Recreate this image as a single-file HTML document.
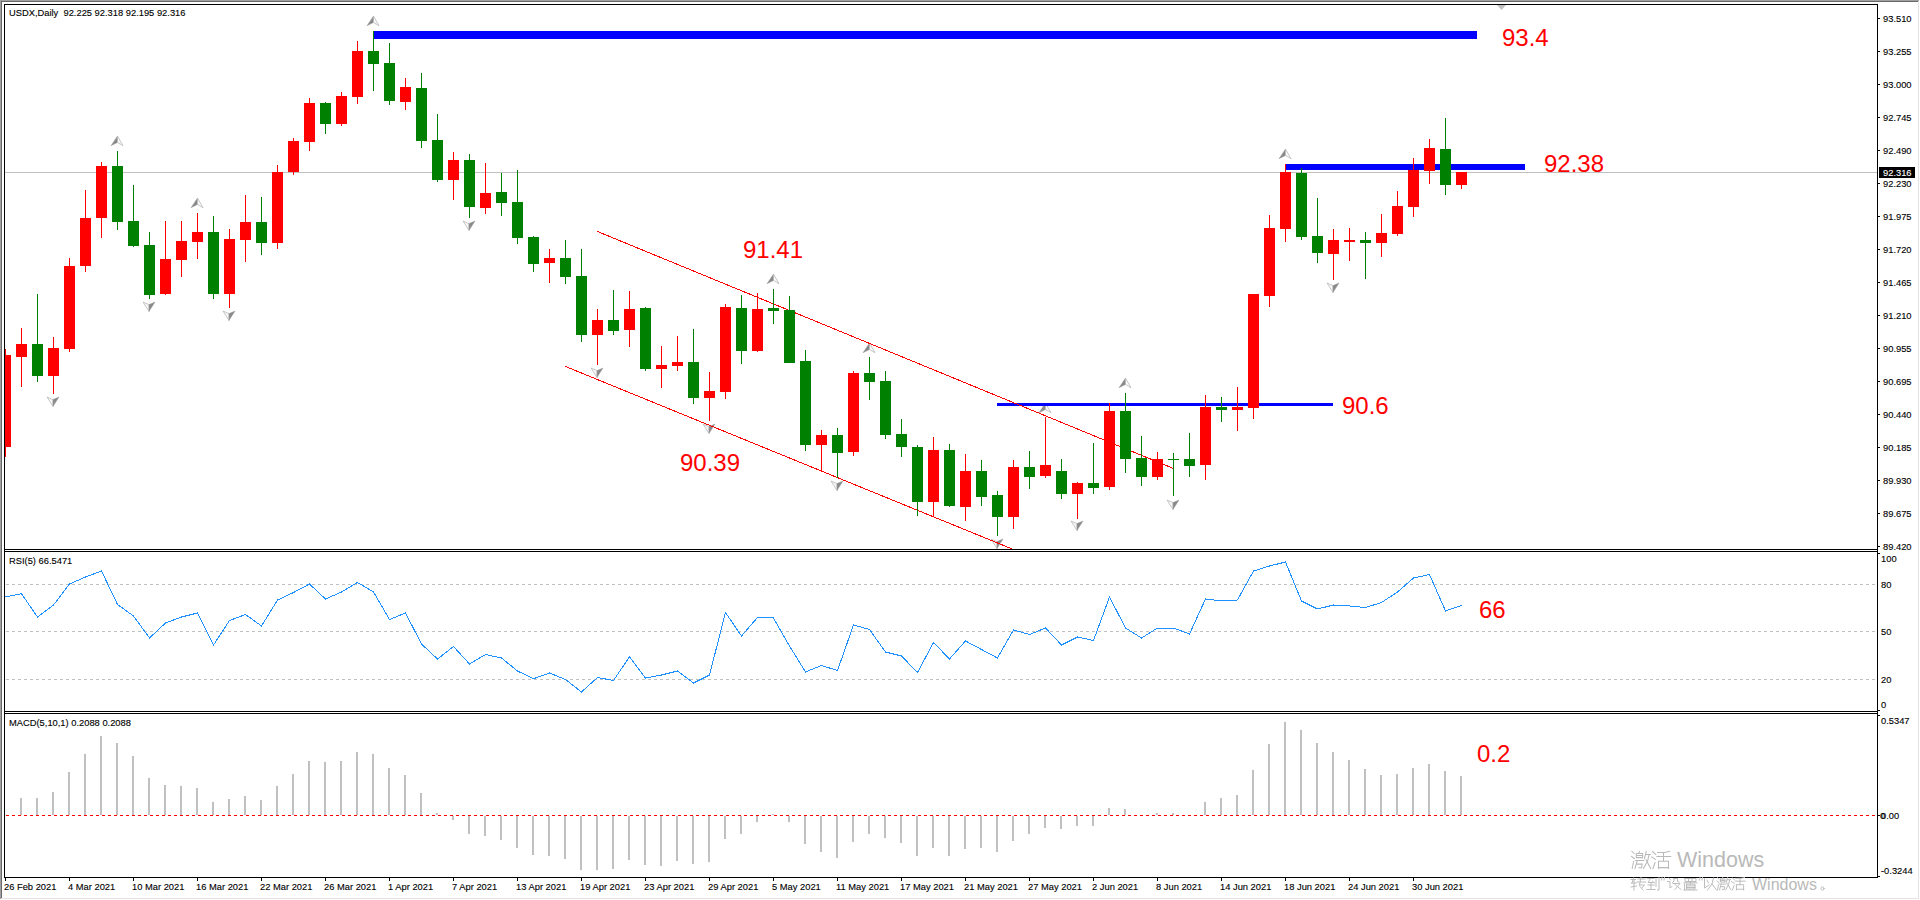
<!DOCTYPE html><html><head><meta charset="utf-8"><style>html,body{margin:0;padding:0;background:#fff;width:1920px;height:900px;overflow:hidden}svg{display:block}text{font-family:"Liberation Sans",sans-serif}</style></head><body>
<svg width="1920" height="900" viewBox="0 0 1920 900">
<rect x="0" y="0" width="1920" height="900" fill="#fff"/>
<g shape-rendering="crispEdges">
<rect x="0" y="0" width="1919" height="1" fill="#a0a0a0"/>
<rect x="0" y="0" width="1" height="899" fill="#a0a0a0"/>
<rect x="1" y="1" width="1917" height="1" fill="#696969"/>
<rect x="1" y="1" width="1" height="897" fill="#696969"/>
<rect x="1918" y="1" width="1" height="898" fill="#e3e3e3"/>
<rect x="1" y="898" width="1918" height="1" fill="#e3e3e3"/>
</g>
<defs><clipPath id="cm"><rect x="5" y="5" width="1872" height="544"/></clipPath><clipPath id="cr"><rect x="5" y="552" width="1872" height="159"/></clipPath><clipPath id="cd"><rect x="5" y="714" width="1872" height="163"/></clipPath></defs>
<g clip-path="url(#cm)">
<rect x="5" y="172" width="1872" height="1" fill="#c0c0c0" shape-rendering="crispEdges"/>
<polygon points="1497,5 1506,5 1501.5,10" fill="#c0c0c0"/>
<polygon points="117.5,136 111,145.7 117.5,142.5" fill="#888888" stroke="#a0a0a0" stroke-width="0.5"/><polygon points="117.5,136 117.5,142.5 123,145.7" fill="#f8f8f8" stroke="#b0b0b0" stroke-width="0.7"/>
<polygon points="197.5,198 191,207.7 197.5,204.5" fill="#888888" stroke="#a0a0a0" stroke-width="0.5"/><polygon points="197.5,198 197.5,204.5 203,207.7" fill="#f8f8f8" stroke="#b0b0b0" stroke-width="0.7"/>
<polygon points="373.5,16 367,25.7 373.5,22.5" fill="#888888" stroke="#a0a0a0" stroke-width="0.5"/><polygon points="373.5,16 373.5,22.5 379,25.7" fill="#f8f8f8" stroke="#b0b0b0" stroke-width="0.7"/>
<polygon points="773.5,274 767,283.7 773.5,280.5" fill="#888888" stroke="#a0a0a0" stroke-width="0.5"/><polygon points="773.5,274 773.5,280.5 779,283.7" fill="#f8f8f8" stroke="#b0b0b0" stroke-width="0.7"/>
<polygon points="869.5,343 863,352.7 869.5,349.5" fill="#888888" stroke="#a0a0a0" stroke-width="0.5"/><polygon points="869.5,343 869.5,349.5 875,352.7" fill="#f8f8f8" stroke="#b0b0b0" stroke-width="0.7"/>
<polygon points="1045.5,403 1039,412.7 1045.5,409.5" fill="#888888" stroke="#a0a0a0" stroke-width="0.5"/><polygon points="1045.5,403 1045.5,409.5 1051,412.7" fill="#f8f8f8" stroke="#b0b0b0" stroke-width="0.7"/>
<polygon points="1125.5,378 1119,387.7 1125.5,384.5" fill="#888888" stroke="#a0a0a0" stroke-width="0.5"/><polygon points="1125.5,378 1125.5,384.5 1131,387.7" fill="#f8f8f8" stroke="#b0b0b0" stroke-width="0.7"/>
<polygon points="1285.5,149 1279,158.7 1285.5,155.5" fill="#888888" stroke="#a0a0a0" stroke-width="0.5"/><polygon points="1285.5,149 1285.5,155.5 1291,158.7" fill="#f8f8f8" stroke="#b0b0b0" stroke-width="0.7"/>
<polygon points="47,397 53,399.6 53,406.5" fill="#f8f8f8" stroke="#b0b0b0" stroke-width="0.7"/><polygon points="59,397 53,406.5 53,399.6" fill="#888888" stroke="#a0a0a0" stroke-width="0.5"/>
<polygon points="143,302 149,304.6 149,311.5" fill="#f8f8f8" stroke="#b0b0b0" stroke-width="0.7"/><polygon points="155,302 149,311.5 149,304.6" fill="#888888" stroke="#a0a0a0" stroke-width="0.5"/>
<polygon points="223,311 229,313.6 229,320.5" fill="#f8f8f8" stroke="#b0b0b0" stroke-width="0.7"/><polygon points="235,311 229,320.5 229,313.6" fill="#888888" stroke="#a0a0a0" stroke-width="0.5"/>
<polygon points="463,221 469,223.6 469,230.5" fill="#f8f8f8" stroke="#b0b0b0" stroke-width="0.7"/><polygon points="475,221 469,230.5 469,223.6" fill="#888888" stroke="#a0a0a0" stroke-width="0.5"/>
<polygon points="591,368 597,370.6 597,377.5" fill="#f8f8f8" stroke="#b0b0b0" stroke-width="0.7"/><polygon points="603,368 597,377.5 597,370.6" fill="#888888" stroke="#a0a0a0" stroke-width="0.5"/>
<polygon points="703,424 709,426.6 709,433.5" fill="#f8f8f8" stroke="#b0b0b0" stroke-width="0.7"/><polygon points="715,424 709,433.5 709,426.6" fill="#888888" stroke="#a0a0a0" stroke-width="0.5"/>
<polygon points="831,481 837,483.6 837,490.5" fill="#f8f8f8" stroke="#b0b0b0" stroke-width="0.7"/><polygon points="843,481 837,490.5 837,483.6" fill="#888888" stroke="#a0a0a0" stroke-width="0.5"/>
<polygon points="991,539 997,541.6 997,548.5" fill="#f8f8f8" stroke="#b0b0b0" stroke-width="0.7"/><polygon points="1003,539 997,548.5 997,541.6" fill="#888888" stroke="#a0a0a0" stroke-width="0.5"/>
<polygon points="1071,521 1077,523.6 1077,530.5" fill="#f8f8f8" stroke="#b0b0b0" stroke-width="0.7"/><polygon points="1083,521 1077,530.5 1077,523.6" fill="#888888" stroke="#a0a0a0" stroke-width="0.5"/>
<polygon points="1167,500 1173,502.6 1173,509.5" fill="#f8f8f8" stroke="#b0b0b0" stroke-width="0.7"/><polygon points="1179,500 1173,509.5 1173,502.6" fill="#888888" stroke="#a0a0a0" stroke-width="0.5"/>
<polygon points="1327,283 1333,285.6 1333,292.5" fill="#f8f8f8" stroke="#b0b0b0" stroke-width="0.7"/><polygon points="1339,283 1333,292.5 1333,285.6" fill="#888888" stroke="#a0a0a0" stroke-width="0.5"/>
<g shape-rendering="crispEdges" fill="#0000ff">
<rect x="373" y="31" width="1104" height="8"/>
<rect x="1285" y="164" width="240" height="6"/>
<rect x="997" y="403" width="336" height="3"/>
</g>
<g stroke="#ff0000" stroke-width="1" shape-rendering="crispEdges">
<line x1="597.5" y1="231.5" x2="1173.5" y2="468.5"/>
<line x1="565.5" y1="366.5" x2="1013.5" y2="549.5"/>
</g>
<g shape-rendering="crispEdges">
<rect x="5" y="349" width="1" height="108" fill="#ff0000"/>
<rect x="0" y="355" width="11" height="92" fill="#ff0000"/>
<rect x="21" y="328" width="1" height="59" fill="#ff0000"/>
<rect x="16" y="344" width="11" height="13" fill="#ff0000"/>
<rect x="37" y="294" width="1" height="88" fill="#008000"/>
<rect x="32" y="344" width="11" height="32" fill="#008000"/>
<rect x="53" y="337" width="1" height="57" fill="#ff0000"/>
<rect x="48" y="348" width="11" height="28" fill="#ff0000"/>
<rect x="69" y="258" width="1" height="94" fill="#ff0000"/>
<rect x="64" y="266" width="11" height="83" fill="#ff0000"/>
<rect x="85" y="190" width="1" height="82" fill="#ff0000"/>
<rect x="80" y="218" width="11" height="48" fill="#ff0000"/>
<rect x="101" y="162" width="1" height="76" fill="#ff0000"/>
<rect x="96" y="166" width="11" height="52" fill="#ff0000"/>
<rect x="117" y="151" width="1" height="79" fill="#008000"/>
<rect x="112" y="166" width="11" height="56" fill="#008000"/>
<rect x="133" y="185" width="1" height="62" fill="#008000"/>
<rect x="128" y="221" width="11" height="25" fill="#008000"/>
<rect x="149" y="232" width="1" height="67" fill="#008000"/>
<rect x="144" y="245" width="11" height="50" fill="#008000"/>
<rect x="165" y="221" width="1" height="74" fill="#ff0000"/>
<rect x="160" y="259" width="11" height="35" fill="#ff0000"/>
<rect x="181" y="221" width="1" height="56" fill="#ff0000"/>
<rect x="176" y="241" width="11" height="19" fill="#ff0000"/>
<rect x="197" y="213" width="1" height="46" fill="#ff0000"/>
<rect x="192" y="232" width="11" height="10" fill="#ff0000"/>
<rect x="213" y="216" width="1" height="83" fill="#008000"/>
<rect x="208" y="232" width="11" height="62" fill="#008000"/>
<rect x="229" y="229" width="1" height="79" fill="#ff0000"/>
<rect x="224" y="239" width="11" height="55" fill="#ff0000"/>
<rect x="245" y="195" width="1" height="67" fill="#ff0000"/>
<rect x="240" y="222" width="11" height="18" fill="#ff0000"/>
<rect x="261" y="197" width="1" height="58" fill="#008000"/>
<rect x="256" y="222" width="11" height="21" fill="#008000"/>
<rect x="277" y="165" width="1" height="84" fill="#ff0000"/>
<rect x="272" y="172" width="11" height="71" fill="#ff0000"/>
<rect x="293" y="138" width="1" height="37" fill="#ff0000"/>
<rect x="288" y="141" width="11" height="31" fill="#ff0000"/>
<rect x="309" y="98" width="1" height="53" fill="#ff0000"/>
<rect x="304" y="103" width="11" height="39" fill="#ff0000"/>
<rect x="325" y="102" width="1" height="32" fill="#008000"/>
<rect x="320" y="103" width="11" height="21" fill="#008000"/>
<rect x="341" y="92" width="1" height="34" fill="#ff0000"/>
<rect x="336" y="96" width="11" height="28" fill="#ff0000"/>
<rect x="357" y="41" width="1" height="63" fill="#ff0000"/>
<rect x="352" y="51" width="11" height="46" fill="#ff0000"/>
<rect x="373" y="31" width="1" height="60" fill="#008000"/>
<rect x="368" y="51" width="11" height="13" fill="#008000"/>
<rect x="389" y="43" width="1" height="62" fill="#008000"/>
<rect x="384" y="63" width="11" height="38" fill="#008000"/>
<rect x="405" y="78" width="1" height="32" fill="#ff0000"/>
<rect x="400" y="87" width="11" height="15" fill="#ff0000"/>
<rect x="421" y="73" width="1" height="75" fill="#008000"/>
<rect x="416" y="88" width="11" height="53" fill="#008000"/>
<rect x="437" y="114" width="1" height="68" fill="#008000"/>
<rect x="432" y="140" width="11" height="40" fill="#008000"/>
<rect x="453" y="152" width="1" height="48" fill="#ff0000"/>
<rect x="448" y="160" width="11" height="20" fill="#ff0000"/>
<rect x="469" y="154" width="1" height="64" fill="#008000"/>
<rect x="464" y="160" width="11" height="47" fill="#008000"/>
<rect x="485" y="163" width="1" height="51" fill="#ff0000"/>
<rect x="480" y="193" width="11" height="15" fill="#ff0000"/>
<rect x="501" y="173" width="1" height="43" fill="#008000"/>
<rect x="496" y="192" width="11" height="11" fill="#008000"/>
<rect x="517" y="170" width="1" height="74" fill="#008000"/>
<rect x="512" y="202" width="11" height="36" fill="#008000"/>
<rect x="533" y="236" width="1" height="36" fill="#008000"/>
<rect x="528" y="237" width="11" height="27" fill="#008000"/>
<rect x="549" y="249" width="1" height="34" fill="#ff0000"/>
<rect x="544" y="258" width="11" height="5" fill="#ff0000"/>
<rect x="565" y="240" width="1" height="44" fill="#008000"/>
<rect x="560" y="258" width="11" height="19" fill="#008000"/>
<rect x="581" y="249" width="1" height="93" fill="#008000"/>
<rect x="576" y="276" width="11" height="59" fill="#008000"/>
<rect x="597" y="309" width="1" height="56" fill="#ff0000"/>
<rect x="592" y="320" width="11" height="15" fill="#ff0000"/>
<rect x="613" y="290" width="1" height="45" fill="#008000"/>
<rect x="608" y="320" width="11" height="11" fill="#008000"/>
<rect x="629" y="291" width="1" height="56" fill="#ff0000"/>
<rect x="624" y="309" width="11" height="21" fill="#ff0000"/>
<rect x="645" y="307" width="1" height="64" fill="#008000"/>
<rect x="640" y="308" width="11" height="61" fill="#008000"/>
<rect x="661" y="346" width="1" height="42" fill="#ff0000"/>
<rect x="656" y="365" width="11" height="4" fill="#ff0000"/>
<rect x="677" y="336" width="1" height="35" fill="#ff0000"/>
<rect x="672" y="362" width="11" height="4" fill="#ff0000"/>
<rect x="693" y="329" width="1" height="75" fill="#008000"/>
<rect x="688" y="362" width="11" height="36" fill="#008000"/>
<rect x="709" y="372" width="1" height="49" fill="#ff0000"/>
<rect x="704" y="391" width="11" height="7" fill="#ff0000"/>
<rect x="725" y="304" width="1" height="95" fill="#ff0000"/>
<rect x="720" y="307" width="11" height="85" fill="#ff0000"/>
<rect x="741" y="295" width="1" height="69" fill="#008000"/>
<rect x="736" y="308" width="11" height="43" fill="#008000"/>
<rect x="757" y="293" width="1" height="59" fill="#ff0000"/>
<rect x="752" y="309" width="11" height="42" fill="#ff0000"/>
<rect x="773" y="289" width="1" height="35" fill="#008000"/>
<rect x="768" y="308" width="11" height="3" fill="#008000"/>
<rect x="789" y="296" width="1" height="67" fill="#008000"/>
<rect x="784" y="310" width="11" height="53" fill="#008000"/>
<rect x="805" y="350" width="1" height="101" fill="#008000"/>
<rect x="800" y="361" width="11" height="84" fill="#008000"/>
<rect x="821" y="430" width="1" height="41" fill="#ff0000"/>
<rect x="816" y="435" width="11" height="10" fill="#ff0000"/>
<rect x="837" y="428" width="1" height="50" fill="#008000"/>
<rect x="832" y="435" width="11" height="18" fill="#008000"/>
<rect x="853" y="371" width="1" height="85" fill="#ff0000"/>
<rect x="848" y="373" width="11" height="79" fill="#ff0000"/>
<rect x="869" y="357" width="1" height="43" fill="#008000"/>
<rect x="864" y="373" width="11" height="9" fill="#008000"/>
<rect x="885" y="371" width="1" height="68" fill="#008000"/>
<rect x="880" y="381" width="11" height="54" fill="#008000"/>
<rect x="901" y="419" width="1" height="38" fill="#008000"/>
<rect x="896" y="434" width="11" height="13" fill="#008000"/>
<rect x="917" y="445" width="1" height="71" fill="#008000"/>
<rect x="912" y="447" width="11" height="55" fill="#008000"/>
<rect x="933" y="437" width="1" height="79" fill="#ff0000"/>
<rect x="928" y="450" width="11" height="52" fill="#ff0000"/>
<rect x="949" y="444" width="1" height="63" fill="#008000"/>
<rect x="944" y="450" width="11" height="56" fill="#008000"/>
<rect x="965" y="454" width="1" height="67" fill="#ff0000"/>
<rect x="960" y="471" width="11" height="36" fill="#ff0000"/>
<rect x="981" y="460" width="1" height="46" fill="#008000"/>
<rect x="976" y="471" width="11" height="26" fill="#008000"/>
<rect x="997" y="491" width="1" height="45" fill="#008000"/>
<rect x="992" y="495" width="11" height="22" fill="#008000"/>
<rect x="1013" y="460" width="1" height="69" fill="#ff0000"/>
<rect x="1008" y="467" width="11" height="50" fill="#ff0000"/>
<rect x="1029" y="451" width="1" height="38" fill="#008000"/>
<rect x="1024" y="467" width="11" height="10" fill="#008000"/>
<rect x="1045" y="417" width="1" height="61" fill="#ff0000"/>
<rect x="1040" y="465" width="11" height="11" fill="#ff0000"/>
<rect x="1061" y="459" width="1" height="40" fill="#008000"/>
<rect x="1056" y="471" width="11" height="23" fill="#008000"/>
<rect x="1077" y="482" width="1" height="37" fill="#ff0000"/>
<rect x="1072" y="483" width="11" height="11" fill="#ff0000"/>
<rect x="1093" y="443" width="1" height="51" fill="#008000"/>
<rect x="1088" y="483" width="11" height="5" fill="#008000"/>
<rect x="1109" y="403" width="1" height="87" fill="#ff0000"/>
<rect x="1104" y="411" width="11" height="76" fill="#ff0000"/>
<rect x="1125" y="393" width="1" height="80" fill="#008000"/>
<rect x="1120" y="411" width="11" height="48" fill="#008000"/>
<rect x="1141" y="436" width="1" height="50" fill="#008000"/>
<rect x="1136" y="458" width="11" height="19" fill="#008000"/>
<rect x="1157" y="452" width="1" height="28" fill="#ff0000"/>
<rect x="1152" y="459" width="11" height="18" fill="#ff0000"/>
<rect x="1173" y="453" width="1" height="43" fill="#008000"/>
<rect x="1168" y="459" width="11" height="1" fill="#008000"/>
<rect x="1189" y="433" width="1" height="44" fill="#008000"/>
<rect x="1184" y="459" width="11" height="7" fill="#008000"/>
<rect x="1205" y="395" width="1" height="85" fill="#ff0000"/>
<rect x="1200" y="407" width="11" height="58" fill="#ff0000"/>
<rect x="1221" y="397" width="1" height="25" fill="#008000"/>
<rect x="1216" y="407" width="11" height="3" fill="#008000"/>
<rect x="1237" y="387" width="1" height="44" fill="#ff0000"/>
<rect x="1232" y="407" width="11" height="3" fill="#ff0000"/>
<rect x="1253" y="294" width="1" height="125" fill="#ff0000"/>
<rect x="1248" y="294" width="11" height="114" fill="#ff0000"/>
<rect x="1269" y="215" width="1" height="92" fill="#ff0000"/>
<rect x="1264" y="228" width="11" height="68" fill="#ff0000"/>
<rect x="1285" y="164" width="1" height="78" fill="#ff0000"/>
<rect x="1280" y="172" width="11" height="57" fill="#ff0000"/>
<rect x="1301" y="168" width="1" height="72" fill="#008000"/>
<rect x="1296" y="173" width="11" height="64" fill="#008000"/>
<rect x="1317" y="198" width="1" height="65" fill="#008000"/>
<rect x="1312" y="236" width="11" height="17" fill="#008000"/>
<rect x="1333" y="229" width="1" height="51" fill="#ff0000"/>
<rect x="1328" y="240" width="11" height="14" fill="#ff0000"/>
<rect x="1349" y="228" width="1" height="33" fill="#ff0000"/>
<rect x="1344" y="240" width="11" height="2" fill="#ff0000"/>
<rect x="1365" y="232" width="1" height="47" fill="#008000"/>
<rect x="1360" y="240" width="11" height="3" fill="#008000"/>
<rect x="1381" y="214" width="1" height="43" fill="#ff0000"/>
<rect x="1376" y="233" width="11" height="10" fill="#ff0000"/>
<rect x="1397" y="191" width="1" height="45" fill="#ff0000"/>
<rect x="1392" y="206" width="11" height="28" fill="#ff0000"/>
<rect x="1413" y="158" width="1" height="59" fill="#ff0000"/>
<rect x="1408" y="170" width="11" height="37" fill="#ff0000"/>
<rect x="1429" y="139" width="1" height="45" fill="#ff0000"/>
<rect x="1424" y="148" width="11" height="23" fill="#ff0000"/>
<rect x="1445" y="118" width="1" height="77" fill="#008000"/>
<rect x="1440" y="149" width="11" height="36" fill="#008000"/>
<rect x="1461" y="172" width="1" height="17" fill="#ff0000"/>
<rect x="1456" y="172" width="11" height="13" fill="#ff0000"/>
</g>
<text x="743" y="258" font-size="24" fill="#ff0000">91.41</text>
<text x="680" y="471" font-size="24" fill="#ff0000">90.39</text>
<text x="1342" y="414" font-size="24" fill="#ff0000">90.6</text>
<text x="1544" y="172" font-size="24" fill="#ff0000">92.38</text>
<text x="1502" y="46" font-size="24" fill="#ff0000">93.4</text>
</g>
<g clip-path="url(#cr)">
<line x1="6" y1="584.5" x2="1877" y2="584.5" stroke="#c0c0c0" stroke-width="1" stroke-dasharray="3,3" shape-rendering="crispEdges"/>
<line x1="6" y1="631.5" x2="1877" y2="631.5" stroke="#c0c0c0" stroke-width="1" stroke-dasharray="3,3" shape-rendering="crispEdges"/>
<line x1="6" y1="679.5" x2="1877" y2="679.5" stroke="#c0c0c0" stroke-width="1" stroke-dasharray="3,3" shape-rendering="crispEdges"/>
<polyline points="5.5,597 21.5,593.75 37.5,617 53.5,605 69.5,584 85.5,577 101.5,571 117.5,604.5 133.5,616 149.5,638 165.5,623 181.5,617 197.5,613 213.5,645 229.5,620.5 245.5,614.5 261.5,626 277.5,600 293.5,592.5 309.5,584 325.5,599 341.5,592 357.5,582.5 373.5,592 389.5,619.5 405.5,613 421.5,644 437.5,659 453.5,646.5 469.5,664 485.5,654.5 501.5,658 517.5,671 533.5,678.75 549.5,673 565.5,679.5 581.5,692 597.5,677.5 613.5,680.5 629.5,656.75 645.5,678 661.5,675 677.5,671 693.5,683 709.5,675 725.5,612.5 741.5,636 757.5,617.5 773.5,618 789.5,646 805.5,672 821.5,665.5 837.5,670.5 853.5,625 869.5,629.5 885.5,652 901.5,656 917.5,672.5 933.5,642.5 949.5,659 965.5,641 981.5,649.5 997.5,658 1013.5,630 1029.5,634.5 1045.5,628 1061.5,645 1077.5,637 1093.5,640.5 1109.5,597 1125.5,628 1141.5,638 1157.5,628 1173.5,628 1189.5,634 1205.5,599 1221.5,601 1237.5,600 1253.5,571 1269.5,566 1285.5,562 1301.5,601 1317.5,609 1333.5,605 1349.5,606 1365.5,607.5 1381.5,602.5 1397.5,592 1413.5,578 1429.5,574.5 1445.5,611 1461.5,605.4" fill="none" stroke="#1e90ff" stroke-width="1" shape-rendering="crispEdges"/>
<text x="1479" y="618" font-size="24" fill="#ff0000">66</text>
</g>
<g clip-path="url(#cd)">
<g shape-rendering="crispEdges" fill="#c0c0c0">
<rect x="20" y="798" width="2" height="17"/>
<rect x="36" y="798" width="2" height="17"/>
<rect x="52" y="792" width="2" height="23"/>
<rect x="68" y="772" width="2" height="43"/>
<rect x="84" y="754" width="2" height="61"/>
<rect x="100" y="736" width="2" height="79"/>
<rect x="116" y="743" width="2" height="72"/>
<rect x="132" y="756" width="2" height="59"/>
<rect x="148" y="778" width="2" height="37"/>
<rect x="164" y="785" width="2" height="30"/>
<rect x="180" y="786" width="2" height="29"/>
<rect x="196" y="788" width="2" height="27"/>
<rect x="212" y="802" width="2" height="13"/>
<rect x="228" y="799" width="2" height="16"/>
<rect x="244" y="796" width="2" height="19"/>
<rect x="260" y="800" width="2" height="15"/>
<rect x="276" y="786" width="2" height="29"/>
<rect x="292" y="774" width="2" height="41"/>
<rect x="308" y="761" width="2" height="54"/>
<rect x="324" y="762" width="2" height="53"/>
<rect x="340" y="761" width="2" height="54"/>
<rect x="356" y="752" width="2" height="63"/>
<rect x="372" y="754" width="2" height="61"/>
<rect x="388" y="768" width="2" height="47"/>
<rect x="404" y="775" width="2" height="40"/>
<rect x="420" y="793" width="2" height="22"/>
<rect x="436" y="813" width="2" height="2"/>
<rect x="452" y="816" width="2" height="4"/>
<rect x="468" y="816" width="2" height="18"/>
<rect x="484" y="816" width="2" height="20"/>
<rect x="500" y="816" width="2" height="24"/>
<rect x="516" y="816" width="2" height="32"/>
<rect x="532" y="816" width="2" height="39"/>
<rect x="548" y="816" width="2" height="40"/>
<rect x="564" y="816" width="2" height="43"/>
<rect x="580" y="816" width="2" height="54"/>
<rect x="596" y="816" width="2" height="54"/>
<rect x="612" y="816" width="2" height="53"/>
<rect x="628" y="816" width="2" height="44"/>
<rect x="644" y="816" width="2" height="49"/>
<rect x="660" y="816" width="2" height="50"/>
<rect x="676" y="816" width="2" height="45"/>
<rect x="692" y="816" width="2" height="48"/>
<rect x="708" y="816" width="2" height="46"/>
<rect x="724" y="816" width="2" height="23"/>
<rect x="740" y="816" width="2" height="18"/>
<rect x="756" y="816" width="2" height="6"/>
<rect x="772" y="814" width="2" height="1"/>
<rect x="788" y="816" width="2" height="6"/>
<rect x="804" y="816" width="2" height="28"/>
<rect x="820" y="816" width="2" height="36"/>
<rect x="836" y="816" width="2" height="42"/>
<rect x="852" y="816" width="2" height="26"/>
<rect x="868" y="816" width="2" height="18"/>
<rect x="884" y="816" width="2" height="22"/>
<rect x="900" y="816" width="2" height="27"/>
<rect x="916" y="816" width="2" height="40"/>
<rect x="932" y="816" width="2" height="32"/>
<rect x="948" y="816" width="2" height="40"/>
<rect x="964" y="816" width="2" height="33"/>
<rect x="980" y="816" width="2" height="32"/>
<rect x="996" y="816" width="2" height="36"/>
<rect x="1012" y="816" width="2" height="25"/>
<rect x="1028" y="816" width="2" height="18"/>
<rect x="1044" y="816" width="2" height="12"/>
<rect x="1060" y="816" width="2" height="13"/>
<rect x="1076" y="816" width="2" height="10"/>
<rect x="1092" y="816" width="2" height="10"/>
<rect x="1108" y="808" width="2" height="7"/>
<rect x="1124" y="809" width="2" height="6"/>
<rect x="1156" y="813" width="2" height="2"/>
<rect x="1172" y="813" width="2" height="2"/>
<rect x="1204" y="802" width="2" height="13"/>
<rect x="1220" y="798" width="2" height="17"/>
<rect x="1236" y="795" width="2" height="20"/>
<rect x="1252" y="770" width="2" height="45"/>
<rect x="1268" y="744" width="2" height="71"/>
<rect x="1284" y="722" width="2" height="93"/>
<rect x="1300" y="730" width="2" height="85"/>
<rect x="1316" y="743" width="2" height="72"/>
<rect x="1332" y="752" width="2" height="63"/>
<rect x="1348" y="760" width="2" height="55"/>
<rect x="1364" y="769" width="2" height="46"/>
<rect x="1380" y="775" width="2" height="40"/>
<rect x="1396" y="774" width="2" height="41"/>
<rect x="1412" y="768" width="2" height="47"/>
<rect x="1428" y="764" width="2" height="51"/>
<rect x="1444" y="771" width="2" height="44"/>
<rect x="1460" y="776" width="2" height="39"/>
</g>
<line x1="6" y1="815.5" x2="1877" y2="815.5" stroke="#ff0000" stroke-width="1" stroke-dasharray="3,3" shape-rendering="crispEdges"/>
<text x="1477" y="762" font-size="24" fill="#ff0000">0.2</text>
</g>
<g shape-rendering="crispEdges" fill="#000">
<rect x="4" y="4" width="1874" height="1"/>
<rect x="4" y="4" width="1" height="874"/>
<rect x="1877" y="4" width="1" height="874"/>
<rect x="4" y="549" width="1874" height="1"/>
<rect x="4" y="551" width="1874" height="1"/>
<rect x="4" y="711" width="1874" height="1"/>
<rect x="4" y="713" width="1874" height="1"/>
<rect x="4" y="877" width="1874" height="1"/>
</g>
<text transform="translate(9,16) scale(0.985,1)" font-size="9.5" fill="#000" stroke="#000" stroke-width="0.12">USDX,Daily&#160;&#160;92.225 92.318 92.195 92.316</text>
<text transform="translate(9,564) scale(0.985,1)" font-size="9.5" fill="#000" stroke="#000" stroke-width="0.12">RSI(5) 66.5471</text>
<text transform="translate(9,726) scale(0.985,1)" font-size="9.5" fill="#000" stroke="#000" stroke-width="0.12">MACD(5,10,1) 0.2088 0.2088</text>
<g shape-rendering="crispEdges" fill="#000">
<rect x="1878" y="18" width="2" height="1"/>
<rect x="1878" y="51" width="2" height="1"/>
<rect x="1878" y="84" width="2" height="1"/>
<rect x="1878" y="117" width="2" height="1"/>
<rect x="1878" y="150" width="2" height="1"/>
<rect x="1878" y="183" width="2" height="1"/>
<rect x="1878" y="216" width="2" height="1"/>
<rect x="1878" y="249" width="2" height="1"/>
<rect x="1878" y="282" width="2" height="1"/>
<rect x="1878" y="315" width="2" height="1"/>
<rect x="1878" y="348" width="2" height="1"/>
<rect x="1878" y="381" width="2" height="1"/>
<rect x="1878" y="414" width="2" height="1"/>
<rect x="1878" y="447" width="2" height="1"/>
<rect x="1878" y="480" width="2" height="1"/>
<rect x="1878" y="513" width="2" height="1"/>
<rect x="1878" y="546" width="2" height="1"/>
<rect x="1878" y="553" width="2" height="1"/>
<rect x="1878" y="710" width="2" height="1"/>
<rect x="1878" y="715" width="2" height="1"/>
<rect x="1878" y="815" width="2" height="1"/>
<rect x="1878" y="876" width="2" height="1"/>
</g>
<text transform="translate(1883,21.6) scale(0.985,1)" font-size="9.5" fill="#000" stroke="#000" stroke-width="0.12">93.510</text>
<text transform="translate(1883,54.6) scale(0.985,1)" font-size="9.5" fill="#000" stroke="#000" stroke-width="0.12">93.255</text>
<text transform="translate(1883,87.6) scale(0.985,1)" font-size="9.5" fill="#000" stroke="#000" stroke-width="0.12">93.000</text>
<text transform="translate(1883,120.6) scale(0.985,1)" font-size="9.5" fill="#000" stroke="#000" stroke-width="0.12">92.745</text>
<text transform="translate(1883,153.6) scale(0.985,1)" font-size="9.5" fill="#000" stroke="#000" stroke-width="0.12">92.490</text>
<text transform="translate(1883,186.6) scale(0.985,1)" font-size="9.5" fill="#000" stroke="#000" stroke-width="0.12">92.230</text>
<text transform="translate(1883,219.6) scale(0.985,1)" font-size="9.5" fill="#000" stroke="#000" stroke-width="0.12">91.975</text>
<text transform="translate(1883,252.6) scale(0.985,1)" font-size="9.5" fill="#000" stroke="#000" stroke-width="0.12">91.720</text>
<text transform="translate(1883,285.6) scale(0.985,1)" font-size="9.5" fill="#000" stroke="#000" stroke-width="0.12">91.465</text>
<text transform="translate(1883,318.6) scale(0.985,1)" font-size="9.5" fill="#000" stroke="#000" stroke-width="0.12">91.210</text>
<text transform="translate(1883,351.6) scale(0.985,1)" font-size="9.5" fill="#000" stroke="#000" stroke-width="0.12">90.955</text>
<text transform="translate(1883,384.6) scale(0.985,1)" font-size="9.5" fill="#000" stroke="#000" stroke-width="0.12">90.695</text>
<text transform="translate(1883,417.6) scale(0.985,1)" font-size="9.5" fill="#000" stroke="#000" stroke-width="0.12">90.440</text>
<text transform="translate(1883,450.6) scale(0.985,1)" font-size="9.5" fill="#000" stroke="#000" stroke-width="0.12">90.185</text>
<text transform="translate(1883,483.6) scale(0.985,1)" font-size="9.5" fill="#000" stroke="#000" stroke-width="0.12">89.930</text>
<text transform="translate(1883,516.6) scale(0.985,1)" font-size="9.5" fill="#000" stroke="#000" stroke-width="0.12">89.675</text>
<text transform="translate(1883,549.6) scale(0.985,1)" font-size="9.5" fill="#000" stroke="#000" stroke-width="0.12">89.420</text>
<rect x="1879" y="167" width="36" height="11" fill="#000" shape-rendering="crispEdges"/>
<text transform="translate(1883,175.6) scale(0.985,1)" font-size="9.5" fill="#fff" stroke="#fff" stroke-width="0.12">92.316</text>
<text transform="translate(1881,561.6) scale(0.985,1)" font-size="9.5" fill="#000" stroke="#000" stroke-width="0.12">100</text>
<text transform="translate(1881,587.6) scale(0.985,1)" font-size="9.5" fill="#000" stroke="#000" stroke-width="0.12">80</text>
<text transform="translate(1881,634.6) scale(0.985,1)" font-size="9.5" fill="#000" stroke="#000" stroke-width="0.12">50</text>
<text transform="translate(1881,682.6) scale(0.985,1)" font-size="9.5" fill="#000" stroke="#000" stroke-width="0.12">20</text>
<text transform="translate(1881,707.6) scale(0.985,1)" font-size="9.5" fill="#000" stroke="#000" stroke-width="0.12">0</text>
<text transform="translate(1881,723.6) scale(0.985,1)" font-size="9.5" fill="#000" stroke="#000" stroke-width="0.12">0.5347</text>
<text transform="translate(1881,818.6) scale(0.985,1)" font-size="9.5" fill="#000" stroke="#000" stroke-width="0.12">0.00</text>
<text transform="translate(1881,873.6) scale(0.985,1)" font-size="9.5" fill="#000" stroke="#000" stroke-width="0.12">-0.3244</text>
<text transform="translate(1880,818.6) scale(0.985,1)" font-size="9.5" fill="#000" stroke="#000" stroke-width="0.12">0</text>
<g shape-rendering="crispEdges" fill="#000">
<rect x="5" y="878" width="1" height="3"/>
<rect x="69" y="878" width="1" height="3"/>
<rect x="133" y="878" width="1" height="3"/>
<rect x="197" y="878" width="1" height="3"/>
<rect x="261" y="878" width="1" height="3"/>
<rect x="325" y="878" width="1" height="3"/>
<rect x="389" y="878" width="1" height="3"/>
<rect x="453" y="878" width="1" height="3"/>
<rect x="517" y="878" width="1" height="3"/>
<rect x="581" y="878" width="1" height="3"/>
<rect x="645" y="878" width="1" height="3"/>
<rect x="709" y="878" width="1" height="3"/>
<rect x="773" y="878" width="1" height="3"/>
<rect x="837" y="878" width="1" height="3"/>
<rect x="901" y="878" width="1" height="3"/>
<rect x="965" y="878" width="1" height="3"/>
<rect x="1029" y="878" width="1" height="3"/>
<rect x="1093" y="878" width="1" height="3"/>
<rect x="1157" y="878" width="1" height="3"/>
<rect x="1221" y="878" width="1" height="3"/>
<rect x="1285" y="878" width="1" height="3"/>
<rect x="1349" y="878" width="1" height="3"/>
<rect x="1413" y="878" width="1" height="3"/>
</g>
<text transform="translate(4,889.6) scale(0.985,1)" font-size="9.5" fill="#000" stroke="#000" stroke-width="0.12">26 Feb 2021</text>
<text transform="translate(68,889.6) scale(0.985,1)" font-size="9.5" fill="#000" stroke="#000" stroke-width="0.12">4 Mar 2021</text>
<text transform="translate(132,889.6) scale(0.985,1)" font-size="9.5" fill="#000" stroke="#000" stroke-width="0.12">10 Mar 2021</text>
<text transform="translate(196,889.6) scale(0.985,1)" font-size="9.5" fill="#000" stroke="#000" stroke-width="0.12">16 Mar 2021</text>
<text transform="translate(260,889.6) scale(0.985,1)" font-size="9.5" fill="#000" stroke="#000" stroke-width="0.12">22 Mar 2021</text>
<text transform="translate(324,889.6) scale(0.985,1)" font-size="9.5" fill="#000" stroke="#000" stroke-width="0.12">26 Mar 2021</text>
<text transform="translate(388,889.6) scale(0.985,1)" font-size="9.5" fill="#000" stroke="#000" stroke-width="0.12">1 Apr 2021</text>
<text transform="translate(452,889.6) scale(0.985,1)" font-size="9.5" fill="#000" stroke="#000" stroke-width="0.12">7 Apr 2021</text>
<text transform="translate(516,889.6) scale(0.985,1)" font-size="9.5" fill="#000" stroke="#000" stroke-width="0.12">13 Apr 2021</text>
<text transform="translate(580,889.6) scale(0.985,1)" font-size="9.5" fill="#000" stroke="#000" stroke-width="0.12">19 Apr 2021</text>
<text transform="translate(644,889.6) scale(0.985,1)" font-size="9.5" fill="#000" stroke="#000" stroke-width="0.12">23 Apr 2021</text>
<text transform="translate(708,889.6) scale(0.985,1)" font-size="9.5" fill="#000" stroke="#000" stroke-width="0.12">29 Apr 2021</text>
<text transform="translate(772,889.6) scale(0.985,1)" font-size="9.5" fill="#000" stroke="#000" stroke-width="0.12">5 May 2021</text>
<text transform="translate(836,889.6) scale(0.985,1)" font-size="9.5" fill="#000" stroke="#000" stroke-width="0.12">11 May 2021</text>
<text transform="translate(900,889.6) scale(0.985,1)" font-size="9.5" fill="#000" stroke="#000" stroke-width="0.12">17 May 2021</text>
<text transform="translate(964,889.6) scale(0.985,1)" font-size="9.5" fill="#000" stroke="#000" stroke-width="0.12">21 May 2021</text>
<text transform="translate(1028,889.6) scale(0.985,1)" font-size="9.5" fill="#000" stroke="#000" stroke-width="0.12">27 May 2021</text>
<text transform="translate(1092,889.6) scale(0.985,1)" font-size="9.5" fill="#000" stroke="#000" stroke-width="0.12">2 Jun 2021</text>
<text transform="translate(1156,889.6) scale(0.985,1)" font-size="9.5" fill="#000" stroke="#000" stroke-width="0.12">8 Jun 2021</text>
<text transform="translate(1220,889.6) scale(0.985,1)" font-size="9.5" fill="#000" stroke="#000" stroke-width="0.12">14 Jun 2021</text>
<text transform="translate(1284,889.6) scale(0.985,1)" font-size="9.5" fill="#000" stroke="#000" stroke-width="0.12">18 Jun 2021</text>
<text transform="translate(1348,889.6) scale(0.985,1)" font-size="9.5" fill="#000" stroke="#000" stroke-width="0.12">24 Jun 2021</text>
<text transform="translate(1412,889.6) scale(0.985,1)" font-size="9.5" fill="#000" stroke="#000" stroke-width="0.12">30 Jun 2021</text>
<g fill="none" stroke="#b9b9b9" stroke-width="1.05" stroke-linecap="square">
<path transform="translate(1626,846)" d="M5.90,5.30 L8.10,7.50 M5.50,10.30 L8.40,12.50 M6.20,22.50 L7.60,15.50 M10.30,7.50 L16.60,7.50 L16.60,11.60 L10.30,11.60 L10.30,7.50 M10.30,9.50 L16.60,9.50 M13.40,5.30 L12.80,7.30 M9.40,14.40 L17.80,14.40 M11.20,14.60 L9.00,22.50 M10.90,18.10 L16.20,18.10 L15.60,21.80 L12.80,21.80 M20.30,5.30 L18.40,12.50 M19.80,8.40 L24.40,8.40 M23.10,8.40 L21.60,15.00 L17.50,22.50 M20.00,13.80 L24.70,22.50 M26.60,5.60 L29.70,8.40 M25.60,10.90 L29.40,13.40 M26.90,22.50 L29.10,16.60 M43.75,5.30 L38.50,6.40 L31.60,6.40 M30.90,10.40 L44.70,10.40 M37.50,6.40 L37.50,15.30 M32.50,15.30 L42.50,15.30 L42.50,22.50 M32.50,15.30 L32.50,22.50 M32.50,21.60 L42.50,21.60"/>
<path stroke-width="0.95" d="M1631.00,879.50 L1635.50,879.50 M1633.50,878.00 L1632.00,883.00 M1631.50,883.00 L1636.00,883.00 M1634.00,880.50 L1634.00,890.00 M1631.00,887.00 L1636.50,886.00 M1638.00,879.00 L1645.00,879.00 M1637.00,882.00 L1645.50,882.00 M1641.00,877.50 L1639.50,885.00 M1639.50,885.00 L1644.50,885.00 L1642.00,888.00 M1640.00,886.50 L1643.00,890.00 M1647.50,878.50 L1654.00,878.50 M1650.50,878.50 L1648.00,882.50 L1654.00,882.50 M1652.50,881.00 L1654.00,883.00 M1648.00,885.00 L1654.00,885.00 M1651.00,883.00 L1651.00,889.50 M1647.00,889.50 L1655.00,889.50 M1656.00,879.00 L1656.00,886.50 M1659.00,877.50 L1659.00,890.00 L1657.50,890.00 M1662.00,877.50 L1661.50,880.00 M1664.50,877.50 L1664.00,880.00 M1669.00,878.00 L1670.50,880.00 M1667.50,881.50 L1670.00,881.50 L1670.00,888.00 L1672.00,886.50 M1674.00,878.50 L1674.00,881.00 L1672.50,882.50 M1674.00,878.50 L1677.50,878.50 L1677.50,881.50 L1679.00,882.00 M1673.00,883.50 L1680.00,883.50 L1675.00,889.50 M1674.50,884.00 L1681.00,889.50 M1685.00,878.50 L1696.00,878.50 L1696.00,881.50 L1685.00,881.50 L1685.00,878.50 M1688.50,878.50 L1688.50,881.50 M1692.00,878.50 L1692.00,881.50 M1684.00,882.80 L1697.00,882.80 M1690.50,881.50 L1690.50,884.00 M1686.50,884.20 L1695.00,884.20 L1695.00,889.00 L1686.50,889.00 L1686.50,884.20 M1686.50,885.90 L1695.00,885.90 M1686.50,887.50 L1695.00,887.50 M1684.60,884.00 L1684.60,890.00 M1684.00,890.00 L1697.00,890.00 M1700.00,877.50 L1699.50,880.00 M1702.50,877.50 L1702.00,880.00 M1704.50,878.50 L1704.50,888.00 L1709.00,885.00 M1707.00,880.00 L1708.50,883.00 M1713.50,878.00 L1712.00,884.00 L1707.50,890.00 M1712.00,884.00 L1716.50,890.00"/>
<path stroke-width="1.3" transform="translate(1713.04,873.68) scale(0.72)" d="M5.90,5.30 L8.10,7.50 M5.50,10.30 L8.40,12.50 M6.20,22.50 L7.60,15.50 M10.30,7.50 L16.60,7.50 L16.60,11.60 L10.30,11.60 L10.30,7.50 M10.30,9.50 L16.60,9.50 M13.40,5.30 L12.80,7.30 M9.40,14.40 L17.80,14.40 M11.20,14.60 L9.00,22.50 M10.90,18.10 L16.20,18.10 L15.60,21.80 L12.80,21.80 M20.30,5.30 L18.40,12.50 M19.80,8.40 L24.40,8.40 M23.10,8.40 L21.60,15.00 L17.50,22.50 M20.00,13.80 L24.70,22.50 M26.60,5.60 L29.70,8.40 M25.60,10.90 L29.40,13.40 M26.90,22.50 L29.10,16.60 M43.75,5.30 L38.50,6.40 L31.60,6.40 M30.90,10.40 L44.70,10.40 M37.50,6.40 L37.50,15.30 M32.50,15.30 L42.50,15.30 L42.50,22.50 M32.50,15.30 L32.50,22.50 M32.50,21.60 L42.50,21.60"/>
<circle cx="1822.5" cy="888.5" r="1.6" stroke-width="0.9"/>
</g>
<text x="1677" y="867" font-size="21.5" fill="#b9b9b9" style="font-family:'Liberation Sans',sans-serif">Windows</text>
<text x="1752" y="890" font-size="16" fill="#b9b9b9" style="font-family:'Liberation Sans',sans-serif">Windows</text>
</svg></body></html>
